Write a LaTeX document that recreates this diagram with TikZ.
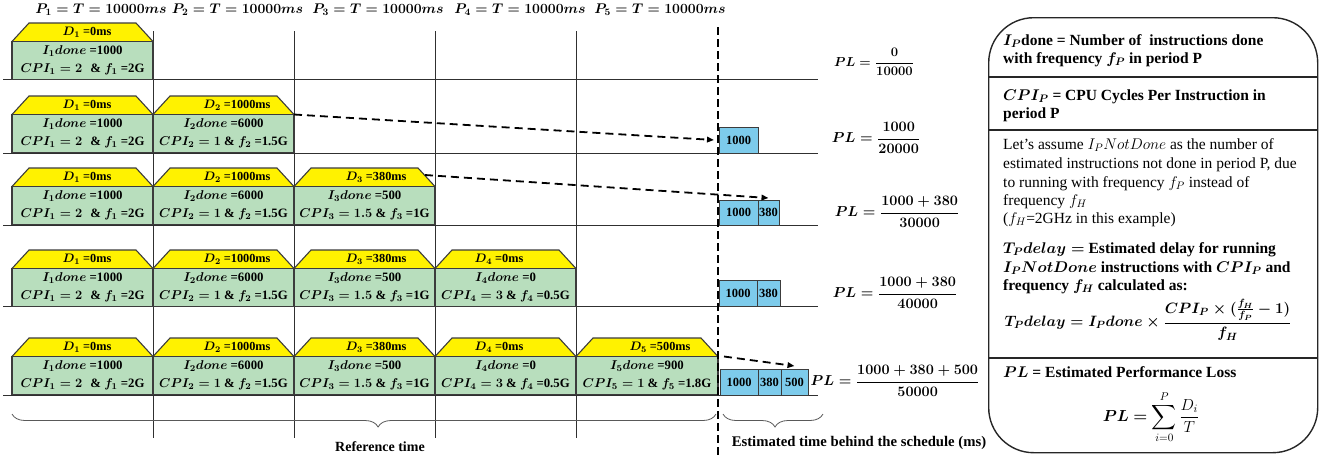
\RequirePackage{fix-cm}
\documentclass[tikz,border=0pt]{standalone}
\usepackage{amsmath}
\usepackage{fontspec}
\setmainfont{Liberation Serif}
\usetikzlibrary{decorations.pathreplacing,arrows.meta}
\definecolor{ylw}{HTML}{FFF200}
\definecolor{grn}{HTML}{B8DEBD}
\definecolor{blu}{HTML}{7DCBEB}
\definecolor{edgec}{HTML}{3C3C3C}
\definecolor{gridc}{HTML}{303030}
\tikzset{
  boxedge/.style={draw=edgec, line width=1.1pt},
  gbox/.style={fill=grn, draw=edgec, line width=1.1pt, inner sep=0pt, outer sep=0pt, align=center,
    font=\fontsize{12.8}{18}\selectfont\bfseries\boldmath},
  dlab/.style={inner sep=0pt, font=\fontsize{12.3}{13}\selectfont\bfseries\boldmath},
  bbox/.style={fill=blu, draw=edgec, line width=1pt, inner sep=0pt, outer sep=0pt, anchor=south west,
    minimum height=26, font=\fontsize{12.5}{13}\selectfont\bfseries},
  gridline/.style={draw=gridc, line width=0.8pt},
  rowline/.style={draw=gridc, line width=1pt},
  dasharrow/.style={line width=1.8pt, dash pattern=on 8pt off 5pt, -{Triangle[length=7pt,width=5.5pt]}},
  plf/.style={inner sep=0pt, font=\fontsize{14.4}{16}\selectfont\boldmath},
  hdr/.style={inner sep=0pt, font=\fontsize{14}{16}\selectfont\boldmath},
  ptxt/.style={inner sep=0pt, anchor=base west, font=\fontsize{15.5}{18}\selectfont\bfseries\boldmath},
  ptxtr/.style={inner sep=0pt, anchor=base west, font=\fontsize{15.5}{18}\selectfont},
  bracec/.style={draw=gray!70!black, line width=0.8pt, decorate, decoration={brace, amplitude=13pt, mirror, aspect=0.52}},
  captxt/.style={inner sep=0pt, font=\fontsize{14}{16}\selectfont\bfseries},
}
% #1 name, #2 x0, #3 x1, #4 yt, #5 D-label x, #6 D text, #7 line1, #8 line2
\newcommand{\pcell}[8]{%
  \fill[ylw] (#2,#4+18.5) -- (#2+17,#4) -- (#3-17,#4) -- (#3,#4+18.5) -- cycle;
  \draw[boxedge] (#2,#4+18.5) -- (#2+17,#4) -- (#3-17,#4) -- (#3,#4+18.5);
  \node[dlab] (#1d) at (#5,#4+9.5) {#6};
  \node[gbox, minimum width={#3-#2}, minimum height=38, anchor=north west] (#1) at (#2,#4+18.5) {#7\\#8};
}
\begin{document}
\begin{tikzpicture}[x=1pt,y=-1pt]
\useasboundingbox (0,0) rectangle (1322,456);

% header
\node[hdr] (h1) at (101,10) {$P_1 = T = 10000ms$};
\node[hdr] (h2) at (237.5,10) {$P_2 = T = 10000ms$};
\node[hdr] (h3) at (378,10) {$P_3 = T = 10000ms$};
\node[hdr] (h4) at (520,10) {$P_4 = T = 10000ms$};
\node[hdr] (h5) at (660,10) {$P_5 = T = 10000ms$};

% grid
\foreach \gx in {153,294,435,576} \draw[gridline] (\gx,31) -- (\gx,438);
\foreach \gy in {79,153,225,306,395} \draw[rowline] (3,\gy) -- (818,\gy);

% row 1
\pcell{c11}{12}{153}{23}{87}{$D_1$ =0ms}{$I_1done$ =1000}{$CPI_1 = 2\;\;\&\ f_1$ =2G}
% row 2
\pcell{c21}{12}{153}{96}{87}{$D_1$ =0ms}{$I_1done$ =1000}{$CPI_1 = 2\;\;\&\ f_1$ =2G}
\pcell{c22}{153}{294}{96}{237}{$D_2$ =1000ms}{$I_2done$ =6000}{$CPI_2 = 1\ \&\ f_2$ =1.5G}
% row 3
\pcell{c31}{12}{153}{168}{87}{$D_1$ =0ms}{$I_1done$ =1000}{$CPI_1 = 2\;\;\&\ f_1$ =2G}
\pcell{c32}{153}{294}{168}{237}{$D_2$ =1000ms}{$I_2done$ =6000}{$CPI_2 = 1\ \&\ f_2$ =1.5G}
\pcell{c33}{294}{435}{168}{376}{$D_3$ =380ms}{$I_3done$ =500}{$CPI_3 = 1.5\ \&\ f_3$ =1G}
% row 4
\pcell{c41}{12}{153}{250}{87}{$D_1$ =0ms}{$I_1done$ =1000}{$CPI_1 = 2\;\;\&\ f_1$ =2G}
\pcell{c42}{153}{294}{250}{237}{$D_2$ =1000ms}{$I_2done$ =6000}{$CPI_2 = 1\ \&\ f_2$ =1.5G}
\pcell{c43}{294}{435}{250}{376}{$D_3$ =380ms}{$I_3done$ =500}{$CPI_3 = 1.5\ \&\ f_3$ =1G}
\pcell{c44}{435}{576}{250}{499}{$D_4$ =0ms}{$I_4done$ =0}{$CPI_4 = 3\ \&\ f_4$ =0.5G}
% row 5
\pcell{c51}{12}{153}{338}{87}{$D_1$ =0ms}{$I_1done$ =1000}{$CPI_1 = 2\;\;\&\ f_1$ =2G}
\pcell{c52}{153}{294}{338}{237}{$D_2$ =1000ms}{$I_2done$ =6000}{$CPI_2 = 1\ \&\ f_2$ =1.5G}
\pcell{c53}{294}{435}{338}{376}{$D_3$ =380ms}{$I_3done$ =500}{$CPI_3 = 1.5\ \&\ f_3$ =1G}
\pcell{c54}{435}{576}{338}{499}{$D_4$ =0ms}{$I_4done$ =0}{$CPI_4 = 3\ \&\ f_4$ =0.5G}
\pcell{c55}{576}{718}{338}{660}{$D_5$ =500ms}{$I_5done$ =900}{$CPI_5 = 1\ \&\ f_5$ =1.8G}

% blue boxes
\node[bbox, minimum width=39] (b2a) at (719,153) {1000};
\node[bbox, minimum width=39, minimum height=25] (b3a) at (719,225) {1000};
\node[bbox, minimum width=21, minimum height=25] (b3b) at (758,225) {380};
\node[bbox, minimum width=38] (b4a) at (719,306) {1000};
\node[bbox, minimum width=23] (b4b) at (757,306) {380};
\node[bbox, minimum width=38] (b5a) at (720,395) {1000};
\node[bbox, minimum width=23] (b5b) at (758,395) {380};
\node[bbox, minimum width=27] (b5c) at (781,395) {500};

% dashed vertical
\coordinate (vtop) at (718,27);
\coordinate (vbot) at (718,456);
\draw[line width=2.4pt, dash pattern=on 8pt off 4pt] (vtop) -- (vbot);

% arrows
\coordinate (a3s) at (425,175);
\draw[dasharrow] (c22.north east) -- ([xshift=-5pt]b2a.west);
\draw[dasharrow] (a3s) -- ([yshift=2pt]b3b.north);
\draw[dasharrow] ([xshift=6pt]c55.north east) -- ([yshift=3pt]b5c.north);

% PL formulas
\node[plf, font=\fontsize{13}{15}\selectfont\boldmath] (pl1) at (874,62) {$PL = \dfrac{0}{10000}$};
\node[plf] (pl2) at (876,138) {$PL = \dfrac{1000}{20000}$};
\node[plf] (pl3) at (897,212) {$PL = \dfrac{1000+380}{30000}$};
\node[plf] (pl4) at (895,293) {$PL = \dfrac{1000+380}{40000}$};
\node[plf] (pl5) at (895,381) {$PL = \dfrac{1000+380+500}{50000}$};

% braces
\coordinate (br1s) at (12,414);
\coordinate (br1e) at (716,414);
\coordinate (br2s) at (723,414);
\coordinate (br2e) at (823,414);
\draw[bracec] (br1s) -- (br1e);
\draw[bracec] (br2s) -- (br2e);
\node[captxt] (cap1) at (380,447) {Reference time};
\node[captxt, font=\fontsize{14.7}{16}\selectfont\bfseries] (cap2) at (859,443) {Estimated time behind the schedule (ms)};

% right panel
\node[draw=black!85, line width=1.4pt, rounded corners=45pt, minimum width=329, minimum height=435,
      inner sep=0pt, anchor=north west] (panel) at (988,17) {};
\draw[line width=1.2pt, draw=black!85] (988,77) -- (1317,77);
\draw[line width=1.2pt, draw=black!85] (988,130) -- (1317,130);
\draw[line width=1.2pt, draw=black!85] (988,358) -- (1317,358);

\node[ptxt] (t1) at (1003,45) {$I_P$done = Number of\ \ instructions done};
\node[ptxt] (t2) at (1003,63) {with frequency $f_P$ in period P};
\node[ptxt] (t3) at (1003,100) {$CPI_P$ = CPU Cycles Per Instruction in};
\node[ptxt] (t4) at (1003,118) {period P};
\node[ptxtr] (t5) at (1003,149) {Let's assume $I_PNotDone$ as the number of};
\node[ptxtr] (t6) at (1003,168) {estimated instructions not done in period P, due};
\node[ptxtr] (t7) at (1003,187) {to running with frequency $f_P$ instead of};
\node[ptxtr] (t8) at (1003,205) {frequency $f_H$};
\node[ptxtr] (t9) at (1003,223) {($f_H$=2GHz in this example)};
\node[ptxt] (t10) at (1003,253) {$T_Pdelay =$ Estimated delay for running};
\node[ptxt] (t11) at (1003,272) {$I_PNotDone$ instructions with $CPI_P$ and};
\node[ptxt] (t12) at (1003,290) {frequency $f_H$ calculated as:};
\node[plf, font=\fontsize{15}{17}\selectfont\boldmath] (tpf) at (1148,320) {$T_Pdelay = I_Pdone \times \dfrac{CPI_P \times (\frac{f_H}{f_P} - 1)}{f_H}$};
\node[ptxt] (t13) at (1003,377) {$PL$ = Estimated Performance Loss};
\node[inner sep=0pt, font=\fontsize{16}{19}\selectfont] (plsum) at (1151,417)
  {$\boldsymbol{PL} \mathrel{\boldsymbol{=}} \displaystyle\sum_{i=0}^{P}\frac{D_i}{T}$};
\end{tikzpicture}
\end{document}
